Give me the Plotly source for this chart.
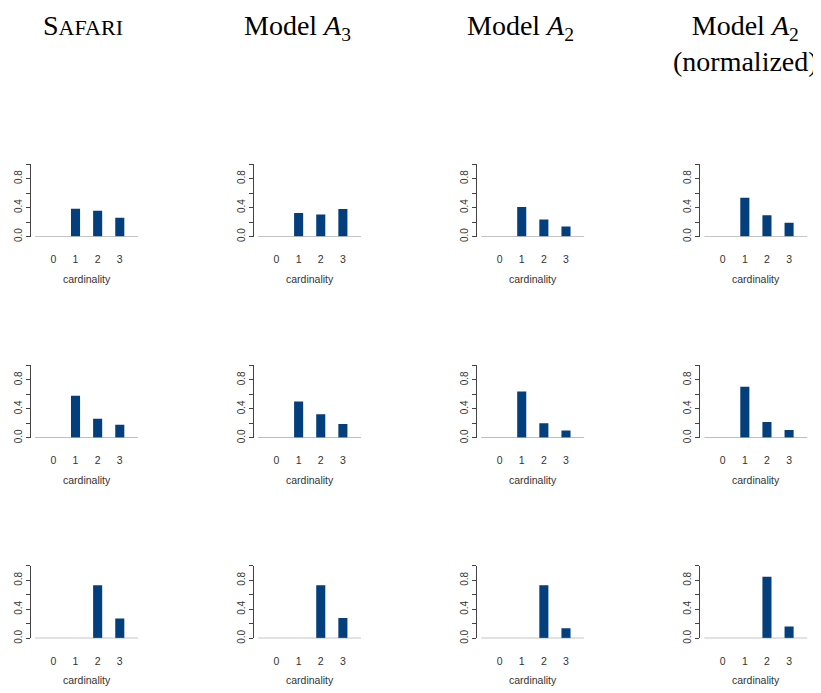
import plotly.graph_objects as go

# ---- data ----
categories = [0, 1, 2, 3]
tick_labels = ["0", "1", "2", "3"]
column_titles = [
    "S<span style='font-size:22px'>AFARI</span>",
    "Model <i>A</i><sub>3</sub>",
    "Model <i>A</i><sub>2</sub>",
    "Model <i>A</i><sub>2</sub><br>(normalized)",
]
# rows x columns (SAFARI, A3, A2, A2 normalized)
row1_safari = [0.0, 0.386, 0.358, 0.260]
row1_a3 = [0.0, 0.325, 0.305, 0.380]
row1_a2 = [0.0, 0.410, 0.237, 0.141]
row1_a2n = [0.0, 0.538, 0.296, 0.192]

row2_safari = [0.0, 0.580, 0.263, 0.181]
row2_a3 = [0.0, 0.500, 0.327, 0.190]
row2_a2 = [0.0, 0.641, 0.200, 0.100]
row2_a2n = [0.0, 0.705, 0.218, 0.109]

row3_safari = [0.0, 0.0, 0.733, 0.273]
row3_a3 = [0.0, 0.0, 0.733, 0.282]
row3_a2 = [0.0, 0.0, 0.733, 0.141]
row3_a2n = [0.0, 0.0, 0.850, 0.164]

y_major_vals = [0, 0.4, 0.8]
y_major_text = ["0.0", "0.4", "0.8"]
y_minor_vals = [0.2, 0.6, 1.0]
x_label = "cardinality"

panels = [
    [row1_safari, row1_a3, row1_a2, row1_a2n],
    [row2_safari, row2_a3, row2_a2, row2_a2n],
    [row3_safari, row3_a3, row3_a2, row3_a2n],
]

# ---- layout geometry (page pixels; page body has an 8px offset) ----
OFF = 8
W, H = 821 - OFF, 693 - OFF
BAR_COLOR = "#023f7c"
UNIT = 22.13            # px per category step
X_START = -1.012
X_SPAN = 4.9
col_left = [31 + 223.1 * c - OFF for c in range(4)]
row_bottom = [238.3 - OFF, 441.0 - OFF, 643.0 - OFF]
PANEL_H = 73.0

fig = go.Figure()
layout = dict(
    width=W, height=H,
    margin=dict(l=0, r=0, t=0, b=0),
    paper_bgcolor="white", plot_bgcolor="white",
    showlegend=False,
    font=dict(family="Liberation Sans, Arial, sans-serif", color="#333333"),
)
annotations = []
shapes = []

idx = 0
for r in range(3):
    for c in range(4):
        idx += 1
        sfx = "" if idx == 1 else str(idx)
        vals = panels[r][c]
        fig.add_trace(go.Bar(
            x=categories, y=vals, width=0.41,
            marker=dict(color=BAR_COLOR, line=dict(width=0)),
            xaxis="x" + sfx, yaxis="y" + sfx, hoverinfo="x+y",
        ))
        x0 = col_left[c]
        x1 = x0 + X_SPAN * UNIT
        yb = row_bottom[r]
        yt = yb - PANEL_H
        layout["xaxis" + sfx] = dict(
            domain=[x0 / W, x1 / W], anchor="y" + sfx,
            range=[X_START, X_START + X_SPAN],
            tickvals=categories, ticktext=tick_labels,
            ticks="", showline=False, showgrid=False, zeroline=False,
            tickfont=dict(size=10.5, color="#333333"),
            ticklabelstandoff=15,
            fixedrange=True,
        )
        layout["yaxis" + sfx] = dict(
            domain=[1 - yb / H, 1 - yt / H], anchor="x" + sfx,
            range=[0, 1.0],
            tickvals=y_major_vals, ticktext=y_major_text,
            ticks="outside", ticklen=4, tickwidth=1, tickcolor="#444444",
            minor=dict(tickvals=y_minor_vals, ticks="outside", ticklen=4,
                       tickwidth=1, tickcolor="#444444", showgrid=False),
            showline=True, linecolor="#444444", linewidth=1,
            showgrid=False, zeroline=False, tickangle=-90,
            tickfont=dict(size=10, color="#333333"),
            fixedrange=True,
        )
        shapes.append(dict(
            type="line", xref="x" + sfx, yref="y" + sfx,
            x0=-0.83, x1=3.82, y0=0, y1=0,
            line=dict(color="#8c8c8c", width=1.2), layer="above",
        ))
        annotations.append(dict(
            text=x_label, xref="x" + sfx, yref="y" + sfx + " domain",
            x=1.5, y=0, yshift=-42, xanchor="center", yanchor="middle",
            showarrow=False, font=dict(size=10.5, color="#333333"),
        ))

TITLE_FONT = dict(family="Liberation Serif, Times New Roman, serif", size=28, color="black")
title_x = [83, 297, 520, 745]
for c in range(4):
    annotations.append(dict(
        text=column_titles[c], xref="paper", yref="paper",
        x=(title_x[c] - OFF) / W, y=1.0,
        xanchor="center", yanchor="top",
        showarrow=False, font=TITLE_FONT,
    ))

layout["annotations"] = annotations
layout["shapes"] = shapes
fig.update_layout(**layout)
fig.write_html("out.html")
